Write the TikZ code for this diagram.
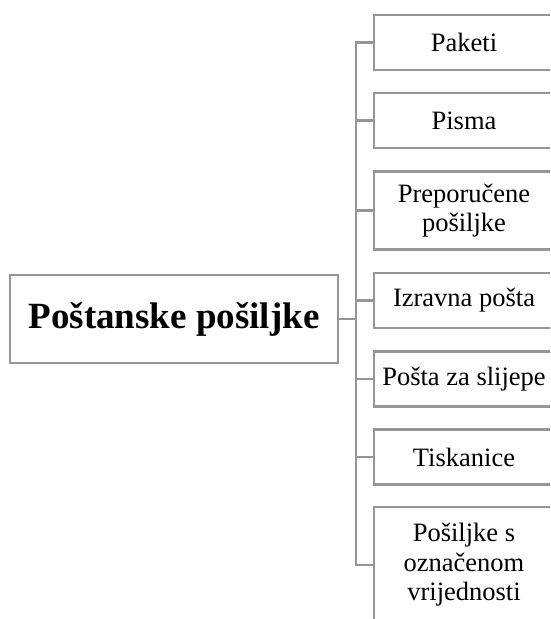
\documentclass[tikz,border=0pt]{standalone}
\usepackage{fontspec}
\setmainfont{Liberation Serif}
\definecolor{linegray}{RGB}{150,150,150}
\tikzset{
  box/.style={draw=linegray, line width=2.9pt, fill=white, rectangle, inner sep=0pt, align=center, text=black},
  rootbox/.style={box, minimum width=328pt, minimum height=88pt, font=\fontsize{37}{44}\selectfont\bfseries},
  childbox/.style={box, minimum width=180pt, font=\fontsize{26.5}{29.5}\selectfont},
  conn/.style={draw=linegray, line width=2.9pt}
}
\begin{document}
\begin{tikzpicture}[x=1pt,y=-1pt]
\useasboundingbox (0,0) rectangle (550,619);
\clip (0,0) rectangle (550,619);
\fill[white] (0,0) rectangle (550,619);
\node[rootbox] (root) at (174,319) {Poštanske pošiljke};
\coordinate (j) at (356,319);
\node[childbox, minimum height=55pt] (c1) at (464,42.5) {Paketi};
\node[childbox, minimum height=55pt] (c2) at (464,120.5) {Pisma};
\node[childbox, minimum height=78pt] (c3) at (464,210.5) {Preporučene\\pošiljke};
\node[childbox, minimum height=55pt] (c4) at (464,300.5) {Izravna pošta};
\node[childbox, minimum height=55pt] (c5) at (464,379) {Pošta za slijepe};
\node[childbox, minimum height=55pt] (c6) at (464,457) {Tiskanice};
\node[childbox, minimum height=116pt] (c7) at (464,565) {Pošiljke s\\označenom\\vrijednosti};
\draw[conn] (root.east) -- (j);
\foreach \c in {c1,c2,c3,c4,c5,c6,c7} {
  \draw[conn] (j) |- (\c.west);
}
\end{tikzpicture}
\end{document}
